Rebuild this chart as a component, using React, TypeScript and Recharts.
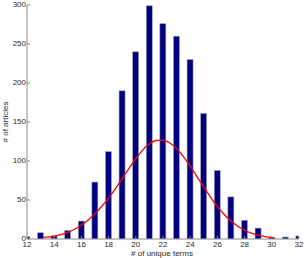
import React from 'react';
import { ComposedChart, Bar, Line, XAxis, YAxis } from 'recharts';

const termCounts = [12, 13, 14, 15, 16, 17, 18, 19, 20, 21, 22, 23, 24, 25, 26, 27, 28, 29, 30, 31, 32];
const articleCounts = [3, 8, 4, 11, 23, 73, 112, 190, 240, 299, 276, 260, 230, 161, 88, 54, 24, 14, 2, 2.5, 4];

const fitX = [13.2, 14, 14.5, 15, 15.5, 16, 16.5, 17, 17.5, 18, 18.5, 19, 19.5, 20, 20.5, 21, 21.5, 22, 22.5, 23, 23.5, 24, 24.5, 25, 25.5, 26, 26.5, 27, 27.5, 28, 28.5, 29, 29.5, 30.2];
const fitY = [2, 3.8, 5.5, 8.5, 12.5, 18, 24.5, 32.5, 42, 52.5, 64.5, 77.5, 90.6, 103, 114, 122, 126.3, 126.7, 123, 116, 105.6, 93.5, 80, 66.5, 53.5, 41.5, 31.5, 23, 16.3, 11.2, 7.5, 4.9, 3.1, 1.5];

const xTicks = [12, 14, 16, 18, 20, 22, 24, 26, 28, 30, 32];
const yTicks = [0, 50, 100, 150, 200, 250, 300];

const barData = termCounts.map((x, i) => ({ x, count: articleCounts[i] }));
const fitData = fitX.map((x, i) => ({ x, fit: fitY[i] }));

const AXIS = '#8a8a8a';
const TEXT = '#2a2a2a';
const FONT = 'Liberation Sans, Arial, sans-serif';
const PLOT_LEFT = 27;
const PLOT_RIGHT = 299;
const BAR_W = 6;

const BottomTick = (p: any) => (
  <g>
    <line x1={p.x} y1={p.y} x2={p.x} y2={p.y - 3} stroke={AXIS} strokeWidth={1} />
    <text x={p.x} y={p.y + 8.3} textAnchor="middle" fontSize={8} fontFamily={FONT} fill={TEXT}>
      {p.payload.value}
    </text>
  </g>
);
const TopTick = (p: any) => (
  <line x1={p.x} y1={p.y} x2={p.x} y2={p.y + 3} stroke={AXIS} strokeWidth={1} />
);
const LeftTick = (p: any) => (
  <g>
    <line x1={p.x} y1={p.y} x2={p.x + 3} y2={p.y} stroke={AXIS} strokeWidth={1} />
    <text x={p.x - 1} y={p.y + 2.4} textAnchor="end" fontSize={8} fontFamily={FONT} fill={TEXT}>
      {p.payload.value}
    </text>
  </g>
);
const RightTick = (p: any) => (
  <line x1={p.x} y1={p.y} x2={p.x - 3} y2={p.y} stroke={AXIS} strokeWidth={1} />
);

const BarShape = (p: any) => {
  const cx = p.x + p.width / 2;
  let x0 = cx - BAR_W / 2;
  let x1 = cx + BAR_W / 2;
  x0 = Math.max(x0, PLOT_LEFT + 0.5);
  x1 = Math.min(x1, PLOT_RIGHT - 0.5);
  if (x1 <= x0 || !(p.height > 0)) return <g />;
  return (
    <rect
      x={x0}
      y={p.y}
      width={x1 - x0}
      height={p.height}
      fill="#000080"
      stroke="#a4a4b4"
      strokeWidth={0.6}
    />
  );
};

export default function App() {
  return (
    <div style={{ position: 'absolute', left: 0, top: 0, width: 305, height: 258, background: '#fff' }}>
      <ComposedChart
        width={305}
        height={258}
        data={barData}
        margin={{ top: 5, right: 6, bottom: 0, left: 0 }}
      >
        <XAxis
          xAxisId="b"
          dataKey="x"
          type="number"
          domain={[12, 32]}
          ticks={xTicks}
          allowDataOverflow
          height={19}
          tickSize={0}
          tickMargin={0}
          tickLine={false}
          axisLine={{ stroke: AXIS }}
          tick={<BottomTick />}
          interval={0}
        />
        <XAxis
          xAxisId="t"
          orientation="top"
          dataKey="x"
          type="number"
          domain={[12, 32]}
          ticks={xTicks}
          allowDataOverflow
          height={0}
          tickSize={0}
          tickMargin={0}
          tickLine={false}
          axisLine={{ stroke: AXIS }}
          tick={<TopTick />}
          interval={0}
        />
        <YAxis
          yAxisId="l"
          type="number"
          domain={[0, 300]}
          ticks={yTicks}
          allowDataOverflow
          width={27}
          tickSize={0}
          tickMargin={0}
          tickLine={false}
          axisLine={{ stroke: AXIS }}
          tick={<LeftTick />}
          interval={0}
        />
        <YAxis
          yAxisId="r"
          orientation="right"
          type="number"
          domain={[0, 300]}
          ticks={yTicks}
          allowDataOverflow
          width={0}
          tickSize={0}
          tickMargin={0}
          tickLine={false}
          axisLine={{ stroke: AXIS }}
          tick={<RightTick />}
          interval={0}
        />
        <Bar
          xAxisId="b"
          yAxisId="l"
          dataKey="count"
          barSize={6}
          fill="#000080"
          shape={<BarShape />}
          isAnimationActive={false}
        />
        <Line
          xAxisId="b"
          yAxisId="l"
          data={fitData}
          dataKey="fit"
          type="monotone"
          stroke="#ff0000"
          strokeWidth={1.3}
          dot={false}
          isAnimationActive={false}
        />
        <text x={162} y={255.5} textAnchor="middle" fontSize={8} fontFamily={FONT} fill={TEXT}>
          # of unique terms
        </text>
        <text
          x={8}
          y={122}
          textAnchor="middle"
          fontSize={8}
          fontFamily={FONT}
          fill={TEXT}
          transform="rotate(-90 8 122)"
        >
          # of articles
        </text>
      </ComposedChart>
    </div>
  );
}
